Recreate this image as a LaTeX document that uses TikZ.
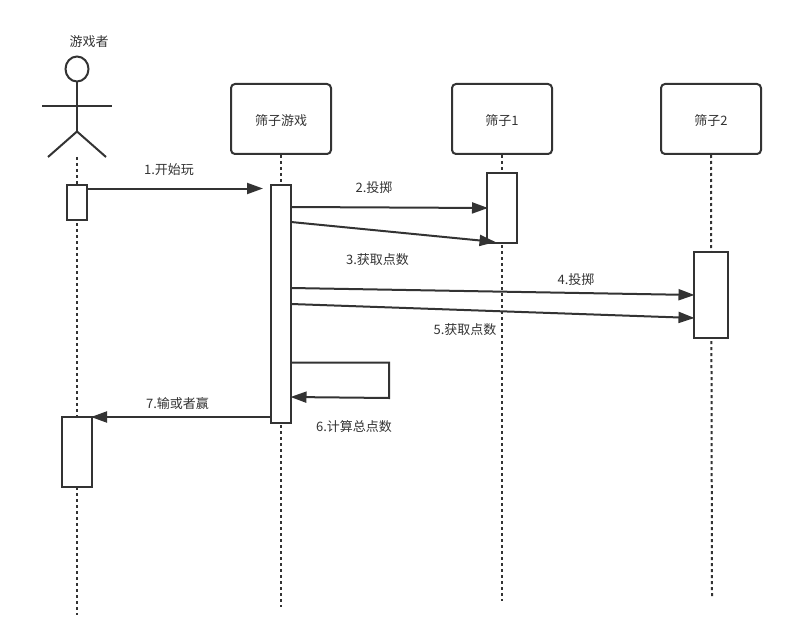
\documentclass[tikz,border=0pt]{standalone}
\usepackage{fontspec}
\setmainfont{Noto Sans CJK SC}[BoldFont={Noto Sans CJK SC}]
\usetikzlibrary{arrows.meta,shapes.geometric}
\definecolor{ink}{HTML}{333333}
\tikzset{
  lab/.style={inner sep=0pt,text=ink,font=\fontsize{13}{15}\selectfont},
  head/.style={draw=ink,line width=2pt,rounded corners=4pt,fill=white,minimum width=100pt,minimum height=70pt,inner sep=0pt},
  actbox/.style={draw=ink,line width=2pt,fill=white,inner sep=0pt},
  life/.style={draw=ink,line width=2pt,dash pattern=on 3pt off 3pt},
  msg/.style={draw=ink,line width=2pt,-{Triangle[length=16pt,width=11pt,fill=ink]}},
  stick/.style={draw=ink,line width=2pt}
}
\begin{document}
\begin{tikzpicture}[x=1pt,y=-1pt]
\useasboundingbox (0,0) rectangle (786,639);
% heads
\node[head] (game) at (281,119) {};
\node[head] (dice1) at (502,119) {};
\node[head] (dice2) at (711,119) {};
\node[lab] (gamet) at (281,120.5) {筛子游戏};
\node[lab] (dice1t) at (502,120.5) {筛子1};
\node[lab] (dice2t) at (711,120.5) {筛子2};
% actor
\node[lab] (actorname) at (89,42) {游戏者};
\node[draw=ink,line width=2pt,ellipse,minimum width=23pt,minimum height=25pt,inner sep=0pt] (actorhead) at (77,69) {};
\coordinate (hip) at (77,131.5);
\coordinate (armL) at (42,106.5);
\coordinate (armR) at (112,106.5);
\coordinate (legL) at (48,157);
\coordinate (legR) at (106,157);
\draw[stick] (actorhead.south) -- (hip);
\draw[stick] (armL) -- (armR);
\draw[stick] (legL) -- (hip) -- (legR);
% lifelines
\coordinate (actorTop) at (77,157);
\coordinate (actorEnd) at (77,615);
\coordinate (gameEnd) at (281,607);
\coordinate (dice1End) at (502,601);
\coordinate (dice2End) at (712,598);
\draw[life] (actorTop) -- (actorEnd);
\draw[life] (game.south) -- (gameEnd);
\draw[life] (dice1.south) -- (dice1End);
\draw[life] (dice2.south) -- (dice2End);
% activations
\node[actbox,minimum width=20pt,minimum height=35pt] (a1) at (77,202.5) {};
\node[actbox,minimum width=20pt,minimum height=238pt] (g1) at (281,304) {};
\node[actbox,minimum width=30pt,minimum height=70pt] (d1) at (502,208) {};
\node[actbox,minimum width=34pt,minimum height=86pt] (d2) at (711,295) {};
\node[actbox,minimum width=30pt,minimum height=70pt] (a2) at (77,452) {};
% message end points
\coordinate (m1a) at (87,188.5);   \coordinate (m1b) at (263,188.5);
\coordinate (m2a) at (291,207);  \coordinate (m2b) at (488,208);
\coordinate (m3a) at (291,222);  \coordinate (m3b) at (495.5,242);
\coordinate (m4a) at (291,288);  \coordinate (m4b) at (694.5,295);
\coordinate (m5a) at (291,304);  \coordinate (m5b) at (694.5,318);
\coordinate (m6a) at (291,362.5);\coordinate (m6c) at (389,362.5);
\coordinate (m6d) at (389,398);  \coordinate (m6b) at (290.5,397);
\coordinate (m7a) at (271,417);  \coordinate (m7b) at (91,417);
\draw[msg] (m1a) -- (m1b);
\draw[msg] (m2a) -- (m2b);
\draw[msg] (m3a) -- (m3b);
\draw[msg] (m4a) -- (m4b);
\draw[msg] (m5a) -- (m5b);
\draw[msg] (m6a) -- (m6c) -- (m6d) -- (m6b);
\draw[msg] (m7a) -- (m7b);
% labels
\node[lab] (l1) at (169,170) {1.开始玩};
\node[lab] (l2) at (374,188) {2.投掷};
\node[lab] (l3) at (377.5,260) {3.获取点数};
\node[lab] (l4) at (576,280) {4.投掷};
\node[lab] (l5) at (465,330) {5.获取点数};
\node[lab] (l6) at (354,427) {6.计算总点数};
\node[lab] (l7) at (177.5,404) {7.输或者赢};
\end{tikzpicture}
\end{document}
